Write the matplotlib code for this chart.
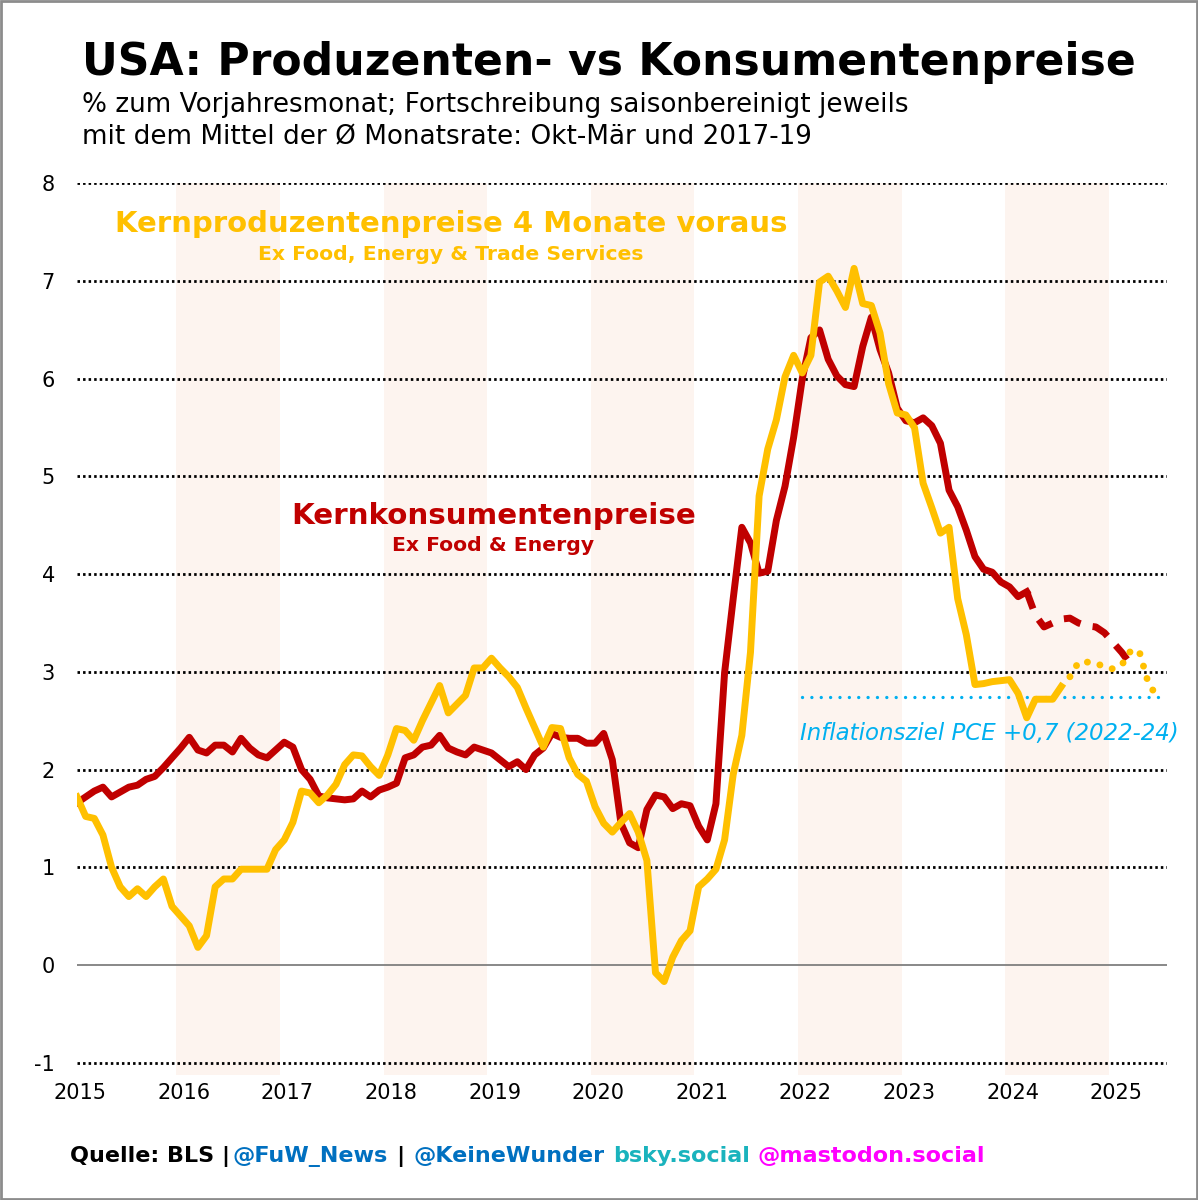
import numpy as np
import matplotlib.pyplot as plt
from matplotlib.patches import Rectangle

# ── Data (monthly, Jan 2015 onwards, % yoy) ──────────────────────────────────
core_cpi = [1.66, 1.72, 1.78, 1.82, 1.72, 1.77, 1.82, 1.84, 1.90, 1.93, 2.02, 2.12,
            2.22, 2.33, 2.20, 2.17, 2.25, 2.25, 2.18, 2.32, 2.22, 2.15, 2.12, 2.20,
            2.28, 2.23, 2.00, 1.90, 1.73, 1.71, 1.70, 1.69, 1.70, 1.78, 1.72, 1.79,
            1.82, 1.86, 2.12, 2.15, 2.23, 2.25, 2.35, 2.22, 2.18, 2.15, 2.23, 2.20,
            2.17, 2.10, 2.03, 2.08, 2.00, 2.15, 2.22, 2.37, 2.33, 2.32, 2.32, 2.27,
            2.27, 2.37, 2.10, 1.45, 1.25, 1.20, 1.59, 1.74, 1.72, 1.60, 1.65, 1.63,
            1.42, 1.28, 1.65, 2.99, 3.75, 4.48, 4.32, 4.01, 4.03, 4.55, 4.90, 5.40,
            6.00, 6.42, 6.50, 6.20, 6.03, 5.94, 5.92, 6.33, 6.63, 6.30, 6.06, 5.70,
            5.57, 5.55, 5.60, 5.52, 5.34, 4.86, 4.69, 4.45, 4.18, 4.05, 4.02, 3.92,
            3.87, 3.77, 3.82]
# projection from Mar 2024
core_cpi_proj = [3.82, 3.58, 3.46, 3.50, 3.54, 3.55, 3.50, 3.47, 3.46, 3.40, 3.30,
                 3.20, 3.08]

# core PPI ex food, energy & trade services, shifted 4 months ahead
core_ppi = [1.72, 1.52, 1.50, 1.33, 1.00, 0.80, 0.70, 0.78, 0.70, 0.80, 0.88, 0.60,
            0.50, 0.40, 0.18, 0.30, 0.80, 0.88, 0.88, 0.98, 0.98, 0.98, 0.98, 1.18,
            1.28, 1.46, 1.78, 1.76, 1.66, 1.74, 1.85, 2.05, 2.15, 2.14, 2.03, 1.94,
            2.15, 2.42, 2.40, 2.30, 2.50, 2.68, 2.86, 2.58, 2.67, 2.76, 3.04, 3.04,
            3.14, 3.04, 2.95, 2.84, 2.63, 2.43, 2.23, 2.43, 2.42, 2.12, 1.95, 1.88,
            1.62, 1.45, 1.36, 1.46, 1.55, 1.36, 1.07, -0.08, -0.17, 0.08, 0.25, 0.35,
            0.80, 0.88, 0.98, 1.28, 1.95, 2.35, 3.20, 4.80, 5.28, 5.58, 6.02, 6.24,
            6.06, 6.24, 6.99, 7.05, 6.90, 6.73, 7.13, 6.77, 6.75, 6.47, 5.95, 5.65,
            5.63, 5.50, 4.93, 4.68, 4.42, 4.48, 3.75, 3.38, 2.87, 2.88, 2.90, 2.91,
            2.92, 2.78, 2.53, 2.72, 2.72, 2.72, 2.85]
core_ppi_proj = [2.85, 2.95, 3.10, 3.10, 3.09, 3.05, 3.03, 3.07, 3.21, 3.22, 2.91,
                 2.75]

pce_target = 2.74
pce_start = 2022.0

years = list(range(2015, 2026))
shade_years = [2016, 2018, 2020, 2022, 2024]
yticks = [-1, 0, 1, 2, 3, 4, 5, 6, 7, 8]

RED = "#C00000"
YELLOW = "#FFC000"
CYAN = "#00B0F0"
SHADE = "#FDF4EF"

t_cpi = 2015 + np.arange(len(core_cpi)) / 12
t_cpi_proj = 2015 + (len(core_cpi) - 1 + np.arange(len(core_cpi_proj))) / 12
t_ppi = 2015 + np.arange(len(core_ppi)) / 12
t_ppi_proj = 2015 + (len(core_ppi) - 1 + np.arange(len(core_ppi_proj))) / 12

# ── Figure ───────────────────────────────────────────────────────────────────
fig = plt.figure(figsize=(11.98, 12), dpi=100)
fig.patches.append(Rectangle((0.001, 0.001), 0.998, 0.998, transform=fig.transFigure,
                             fill=False, edgecolor="#8c8c8c", linewidth=2))
ax = fig.add_axes([0.0643, 0.1042, 0.9098, 0.7433])

for y in shade_years:
    ax.axvspan(y - 0.5 / 12, y + 1 - 0.5 / 12, color=SHADE, lw=0, zorder=0)

for v in yticks:
    if v == 0:
        ax.axhline(0, color="#7f7f7f", lw=1.3, zorder=1)
    else:
        ax.axhline(v, color="black", lw=2.0, linestyle=(0, (0.9, 1.1)), zorder=1)

# red: core CPI
ax.plot(t_cpi, core_cpi, color=RED, lw=5, solid_joinstyle="round", zorder=3)
ax.plot(t_cpi_proj, core_cpi_proj, color=RED, lw=5, linestyle=(0, (2.6, 1.8)),
        dash_capstyle="butt", zorder=3)

# yellow: core PPI 4 months ahead
ax.plot(t_ppi, core_ppi, color=YELLOW, lw=5, solid_joinstyle="round", zorder=4)
ax.plot(t_ppi_proj[1:], core_ppi_proj[1:], color=YELLOW, lw=5,
        linestyle=(0, (0.01, 1.85)), dash_capstyle="round", zorder=4)

# inflation target
ax.plot([pce_start, 2025.5], [pce_target, pce_target], color=CYAN, lw=2.4,
        linestyle=(0, (0.01, 2.8)), dash_capstyle="round", zorder=2)
ax.text(2021.98, 2.37, "Inflationsziel PCE +0,7 (2022-24)", color=CYAN,
        fontsize=16.5, style="italic", ha="left", va="center")

# series labels
ax.text(2018.61, 7.58, "Kernproduzentenpreise 4 Monate voraus", color=YELLOW,
        fontsize=21, fontweight="bold", ha="center", va="center")
ax.text(2018.61, 7.27, "Ex Food, Energy & Trade Services", color=YELLOW,
        fontsize=14.7, fontweight="bold", ha="center", va="center")
ax.text(2019.02, 4.6, "Kernkonsumentenpreise", color=RED,
        fontsize=21.2, fontweight="bold", ha="center", va="center")
ax.text(2019.02, 4.29, "Ex Food & Energy", color=RED,
        fontsize=14.7, fontweight="bold", ha="center", va="center")

ax.set_xlim(2015.0, 2025.52)
ax.set_ylim(-1.126, 8.004)
ax.set_xticks([y + 0.03 for y in years])
ax.set_xticklabels([str(y) for y in years])
ax.set_yticks(yticks)
ax.set_yticklabels([str(v) for v in yticks])
ax.tick_params(axis="both", length=0, labelsize=15)
ax.tick_params(axis="y", pad=16)
ax.tick_params(axis="x", pad=6)
for s in ax.spines.values():
    s.set_visible(False)

# titles
fig.text(82 / 1198, 1 - 63 / 1200, "USA: Produzenten- vs Konsumentenpreise",
         fontsize=31.8, fontweight="bold", ha="left", va="center")
fig.text(82 / 1198, 1 - 105 / 1200, "% zum Vorjahresmonat; Fortschreibung saisonbereinigt jeweils",
         fontsize=18.9, ha="left", va="center")
fig.text(82 / 1198, 1 - 137 / 1200, "mit dem Mittel der Ø Monatsrate: Okt-Mär und 2017-19",
         fontsize=18.9, ha="left", va="center")

# footer, coloured pieces placed one after another
footer = [("Quelle: BLS |", "black", 0), ("@FuW_News", "#0070C0", 2),
          ("|", "black", 9), ("@KeineWunder", "#0070C0", 9),
          ("bsky.social", "#1AB3BD", 8), ("@mastodon.social", "#FF00FF", 8)]
renderer = fig.canvas.get_renderer()
x_px = 70
for txt, col, gap in footer:
    x_px += gap
    t = fig.text(x_px / 1198, 1 - 1162 / 1200, txt, color=col, fontsize=16,
                 fontweight="bold", ha="left", va="baseline")
    x_px += t.get_window_extent(renderer).width

fig.savefig("out.png", dpi=100)
